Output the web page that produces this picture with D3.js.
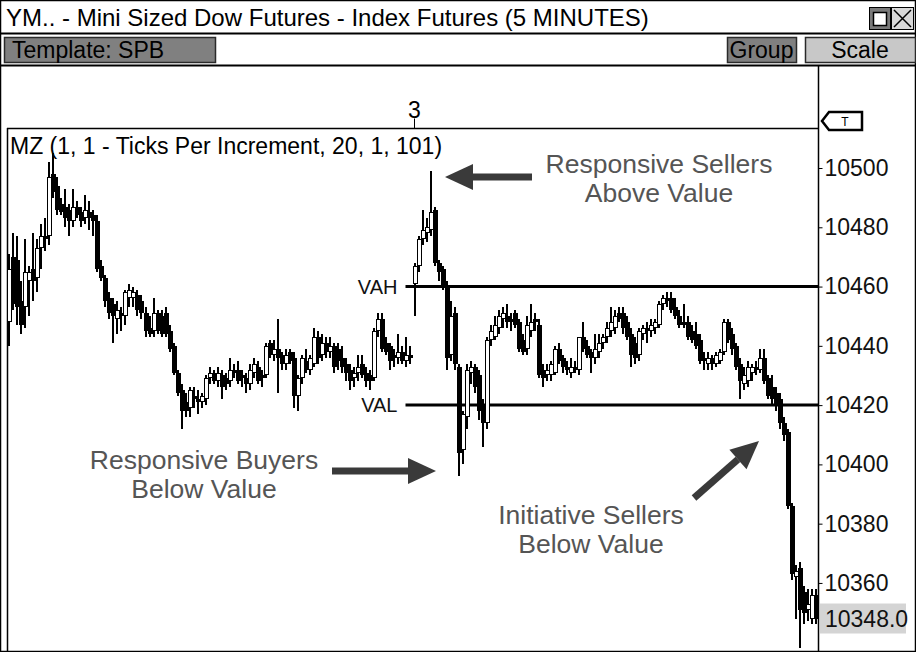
<!DOCTYPE html>
<html>
<head>
<meta charset="utf-8">
<script src="https://d3js.org/d3.v7.min.js"></script>
<style>
  body { margin: 0; background: #fff; }
  svg { display: block; font-family: "Liberation Sans", Arial, sans-serif; }
</style>
</head>
<body>
<div id="chart"></div>
<script>
// 5 minute bars, [open, high, low, close]
var session1 = [
  [10448,10471,10440,10466],[10470,10478,10452,10454],[10469,10477,10447,10453],[10455,10462,10444,10447],
  [10453,10476,10446,10465],[10462,10467,10450,10465],[10466,10478,10455,10462],[10463,10476,10458,10473],
  [10473,10481,10466,10477],[10476,10483,10472,10477],[10477,10502,10474,10497],[10498,10505,10490,10492],
  [10494,10497,10484,10486],[10488,10490,10484,10485],[10487,10493,10480,10483],[10486,10488,10477,10482],
  [10482,10493,10480,10487],[10487,10489,10483,10484],[10485,10487,10480,10482],[10483,10491,10481,10486],
  [10485,10489,10479,10483],[10484,10486,10477,10482],[10482,10484,10465,10466],[10467,10469,10462,10463],
  [10463,10464,10453,10455],[10456,10458,10449,10451],[10454,10456,10441,10450],[10449,10455,10444,10452],
  [10451,10453,10445,10450],[10450,10459,10447,10458],[10456,10461,10453,10459],[10456,10460,10453,10458],
  [10457,10459,10450,10452],[10455,10457,10449,10451],[10451,10453,10443,10445],[10446,10450,10443,10444],
  [10445,10456,10443,10451],[10451,10452,10444,10445],[10450,10452,10443,10444],[10451,10453,10443,10444],
  [10445,10447,10438,10439],[10440,10441,10430,10431],[10431,10432,10423,10424],[10425,10427,10412,10418],
  [10421,10424,10416,10418],[10419,10426,10416,10425],[10423,10426,10419,10422],[10422,10425,10417,10421],
  [10421,10424,10419,10423],[10422,10430,10420,10429],[10429,10433,10427,10431],[10431,10432,10427,10428],
  [10428,10433,10426,10431],[10430,10432,10422,10426],[10429,10431,10425,10427],[10428,10436,10426,10432],
  [10431,10434,10429,10432],[10432,10435,10427,10428],[10430,10432,10426,10429],[10429,10431,10424,10427],
  [10427,10434,10425,10432],[10431,10436,10429,10434],[10433,10435,10427,10428],[10429,10432,10426,10430],
  [10430,10441,10429,10440],[10441,10442,10436,10437],[10437,10442,10435,10439],[10439,10449,10424,10436],
  [10437,10438,10432,10434],[10434,10439,10432,10437],[10438,10439,10434,10435],[10436,10438,10419,10423],
  [10423,10430,10418,10429],[10429,10437,10427,10436],[10435,10439,10431,10432],[10432,10437,10430,10436],
  [10434,10446,10433,10443],[10443,10445,10434,10436],[10437,10444,10435,10441],[10441,10443,10436,10438],
  [10438,10443,10436,10440],[10440,10441,10431,10433],[10439,10441,10432,10435],[10436,10440,10431,10433],
  [10434,10436,10428,10431],[10432,10434,10425,10428],[10429,10433,10426,10431],[10431,10437,10428,10433],
  [10434,10437,10429,10430],[10431,10433,10426,10428],[10430,10432,10425,10428],[10429,10446,10428,10445],
  [10445,10451,10443,10449],[10449,10451,10438,10439],[10441,10443,10437,10438],[10440,10441,10432,10435],
  [10436,10439,10433,10437],[10436,10444,10434,10438],[10438,10440,10434,10435],[10435,10443,10433,10437],
  [10437,10440,10434,10436]
];
var session2 = [
  [10461,10468,10450,10467],[10467,10477,10465,10476],[10476,10486,10474,10479],[10478,10483,10475,10480],
  [10479,10499,10477,10485],[10486,10487,10467,10468],[10468,10469,10462,10465],[10466,10467,10459,10460],
  [10460,10462,10432,10436],[10437,10455,10435,10450],[10451,10453,10432,10434],[10433,10434,10396,10404],
  [10405,10418,10400,10417],[10416,10434,10412,10432],[10431,10435,10427,10433],[10433,10434,10424,10426],
  [10430,10432,10415,10418],[10420,10422,10406,10414],[10414,10443,10412,10442],[10442,10447,10440,10445],
  [10443,10450,10442,10447],[10446,10452,10444,10450],[10449,10453,10446,10451],[10450,10454,10446,10448],
  [10448,10451,10445,10449],[10451,10452,10446,10447],[10448,10449,10438,10439],[10442,10444,10437,10438],
  [10439,10450,10437,10447],[10445,10454,10443,10448],[10448,10451,10445,10449],[10447,10449,10429,10430],
  [10432,10434,10426,10429],[10430,10434,10428,10432],[10430,10435,10428,10434],[10431,10440,10430,10439],
  [10439,10441,10434,10435],[10436,10437,10431,10433],[10433,10435,10430,10432],[10431,10436,10429,10433],
  [10433,10435,10431,10432],[10432,10443,10430,10443],[10443,10448,10438,10439],[10440,10442,10436,10437],
  [10438,10439,10431,10436],[10436,10444,10434,10439],[10438,10444,10436,10441],[10441,10444,10439,10443],
  [10443,10448,10441,10446],[10445,10453,10443,10448],[10446,10452,10444,10450],[10451,10453,10448,10449],
  [10451,10453,10444,10446],[10448,10450,10442,10443],[10444,10446,10433,10437],[10441,10443,10434,10436],
  [10437,10446,10435,10445],[10444,10447,10442,10446],[10446,10448,10441,10445],[10445,10449,10443,10447],
  [10446,10449,10444,10448],[10447,10455,10446,10454],[10454,10457,10452,10456],[10455,10458,10453,10456],
  [10456,10458,10451,10452],[10453,10456,10449,10450],[10450,10452,10446,10447],[10448,10454,10446,10447],
  [10448,10450,10442,10443],[10445,10447,10441,10442],[10444,10448,10439,10440],[10442,10444,10434,10435],
  [10436,10438,10432,10435],[10434,10438,10432,10436],[10436,10437,10432,10434],[10434,10438,10433,10437],
  [10435,10439,10434,10438],[10438,10449,10437,10448],[10448,10449,10441,10442],[10444,10446,10437,10439],
  [10440,10441,10432,10433],[10434,10436,10422,10428],[10427,10433,10425,10430],[10428,10435,10426,10433],
  [10431,10434,10428,10433],[10433,10435,10430,10432],[10432,10439,10431,10436],[10436,10439,10427,10428],
  [10429,10430,10422,10423],[10426,10430,10420,10422],[10424,10426,10418,10420],[10422,10424,10412,10414],
  [10414,10416,10408,10410],[10411,10412,10385,10386],[10386,10387,10361,10363],[10362,10366,10348,10364],
  [10365,10367,10338,10351],[10357,10359,10346,10350],[10351,10358,10347,10353],[10348,10358,10346,10356],
  [10356,10358,10346,10348]
];
var priceTicks = [10500, 10480, 10460, 10440, 10420, 10400, 10380, 10360];
var dayLabels = ["3"];
var lastPrice = 10348.0;
var valueArea = [{name: "VAH", price: 10460}, {name: "VAL", price: 10420}];
var noteSellers = ["Responsive Sellers", "Above Value"];
var noteBuyers = ["Responsive Buyers", "Below Value"];
var noteInitiative = ["Initiative Sellers", "Below Value"];

var W = 916, H = 652;
var PLOT_LEFT = 7, PLOT_RIGHT = 818, PLOT_TOP = 128, PLOT_BOTTOM = 652;
var FONT = 23;

var bars = session1.concat(session2).map(function(b, i) {
  return {i: i, o: b[0], h: b[1], l: b[2], c: b[3]};
});

var svg = d3.select("#chart").append("svg")
  .attr("width", W)
  .attr("height", H);

// window frame + title bar
svg.append("rect").attr("x", 0.5).attr("y", 0.5).attr("width", W - 1).attr("height", H - 1)
  .attr("fill", "#fff").attr("stroke", "#000").attr("stroke-width", 1.5);

svg.append("text").attr("x", 6).attr("y", 26)
  .attr("font-size", 24).text("YM.. - Mini Sized Dow Futures - Index Futures (5 MINUTES)");

// maximise / close boxes
svg.append("rect").attr("x", 869.5).attr("y", 7.5).attr("width", 21).attr("height", 22)
  .attr("fill", "#7a7a7a").attr("stroke", "#000");
svg.append("rect").attr("x", 873.5).attr("y", 12.5).attr("width", 13).attr("height", 13)
  .attr("fill", "#fff").attr("stroke", "#000").attr("stroke-width", 1.5);
svg.append("rect").attr("x", 891.5).attr("y", 7.5).attr("width", 22).attr("height", 22)
  .attr("fill", "#d8d8d8").attr("stroke", "#000");
svg.append("path").attr("d", "M894,10L911,27M911,10L894,27").attr("stroke", "#000").attr("stroke-width", 1.5);

svg.append("line").attr("x1", 0).attr("x2", W).attr("y1", 33.5).attr("y2", 33.5)
  .attr("stroke", "#000").attr("stroke-width", 2);

// toolbar
var buttons = [
  {label: "Template: SPB", x: 4, w: 211, fill: "#808080", anchor: "start"},
  {label: "Group", x: 727, w: 69, fill: "#808080", anchor: "middle"},
  {label: "Scale", x: 805, w: 110, fill: "#c8c8c8", anchor: "middle"}
];
var btn = svg.selectAll(".btn").data(buttons).enter().append("g").attr("class", "btn");
btn.append("rect")
  .attr("x", function(d) { return d.x + 0.5; })
  .attr("y", 37.5).attr("width", function(d) { return d.w; }).attr("height", 25)
  .attr("fill", function(d) { return d.fill; })
  .attr("stroke", "#2a2a2a").attr("stroke-width", 1.5);
btn.append("text")
  .attr("x", function(d) { return d.anchor === "start" ? d.x + 8 : d.x + d.w / 2; })
  .attr("y", 58).attr("font-size", FONT)
  .attr("text-anchor", function(d) { return d.anchor; })
  .text(function(d) { return d.label; });

svg.append("line").attr("x1", 0).attr("x2", W).attr("y1", 65.5).attr("y2", 65.5)
  .attr("stroke", "#000").attr("stroke-width", 2);

// scales
var x = d3.scaleBand()
  .domain(bars.map(function(d) { return d.i; }))
  .range([PLOT_LEFT, PLOT_RIGHT]);
var y = d3.scaleLinear()
  .domain([10336.7, 10513.5])
  .range([PLOT_BOTTOM, PLOT_TOP]);
function cx(d) { return Math.round(x(d.i) + x.bandwidth() / 2); }

// frame lines of the plot
svg.append("line").attr("x1", PLOT_LEFT + 0.5).attr("x2", PLOT_LEFT + 0.5)
  .attr("y1", PLOT_TOP).attr("y2", PLOT_BOTTOM).attr("stroke", "#000").attr("stroke-width", 1.5);
svg.append("line").attr("x1", PLOT_RIGHT + 0.5).attr("x2", PLOT_RIGHT + 0.5)
  .attr("y1", 66).attr("y2", PLOT_BOTTOM).attr("stroke", "#000").attr("stroke-width", 1.5);

// time axis on top (day break)
var timeAxis = d3.axisTop(x)
  .tickValues([session1.length])
  .tickSize(10)
  .tickFormat(function(d, i) { return dayLabels[i]; });
var tg = svg.append("g").attr("transform", "translate(0," + (PLOT_TOP + 0.5) + ")").call(timeAxis);
tg.select(".domain").attr("d", "M" + PLOT_LEFT + ",0H" + PLOT_RIGHT).attr("stroke-width", 1.5);
tg.selectAll("text").attr("font-size", FONT).attr("font-family", "Liberation Sans, Arial").attr("dy", "0.1em");

// price axis
var priceAxis = d3.axisRight(y)
  .tickValues(priceTicks)
  .tickSize(4)
  .tickPadding(2)
  .tickFormat(d3.format("d"));
var pg = svg.append("g").attr("transform", "translate(" + (PLOT_RIGHT + 0.5) + ",0)").call(priceAxis);
pg.select(".domain").remove();
pg.selectAll("text").attr("font-size", FONT).attr("font-family", "Liberation Sans, Arial").attr("fill", "#111");

// last price box
svg.append("rect").attr("x", 820).attr("y", y(lastPrice) - 15).attr("width", 86).attr("height", 30)
  .attr("fill", "#d4d4d4");
svg.append("text").attr("x", 825).attr("y", y(lastPrice) + 8)
  .attr("font-size", FONT).attr("fill", "#111").text(d3.format(".1f")(lastPrice));

// T tag
svg.append("path").attr("d", "M822,121L829,112H862V130H829Z")
  .attr("fill", "#fff").attr("stroke", "#000").attr("stroke-width", 2.5);
svg.append("text").attr("x", 845).attr("y", 126).attr("text-anchor", "middle")
  .attr("font-size", 12).text("T");

// study label
svg.append("text").attr("x", 10).attr("y", 154).attr("font-size", FONT)
  .text("MZ (1, 1 - Ticks Per Increment, 20, 1, 101)");

// value area lines
var vaX0 = x(session1.length) - 7;
svg.selectAll(".va").data(valueArea).enter().append("line")
  .attr("class", "va")
  .attr("x1", vaX0).attr("x2", PLOT_RIGHT)
  .attr("y1", function(d) { return y(d.price); })
  .attr("y2", function(d) { return y(d.price); })
  .attr("stroke", "#000").attr("stroke-width", 3);
svg.selectAll(".valabel").data(valueArea).enter().append("text")
  .attr("x", vaX0 - 8)
  .attr("y", function(d) { return y(d.price) + 7; })
  .attr("text-anchor", "end").attr("font-size", 20).attr("fill", "#111")
  .text(function(d) { return d.name; });

// candles: wick, then a black body, white inside for up bars
var cg = svg.append("g").attr("shape-rendering", "crispEdges");
cg.selectAll(".wick").data(bars).enter().append("rect")
  .attr("class", "wick")
  .attr("x", function(d) { return cx(d) - 1; })
  .attr("width", 2)
  .attr("y", function(d) { return y(d.h); })
  .attr("height", function(d) { return y(d.l) - y(d.h); })
  .attr("fill", "#000");
cg.selectAll(".body").data(bars).enter().append("rect")
  .attr("class", "body")
  .attr("x", function(d) { return cx(d) - 2; })
  .attr("y", function(d) { return y(Math.max(d.o, d.c)); })
  .attr("width", 5)
  .attr("height", function(d) { return Math.max(2, Math.abs(y(d.o) - y(d.c))); })
  .attr("fill", "#000");
cg.selectAll(".hollow").data(bars.filter(function(d) { return d.c > d.o && y(d.o) - y(d.c) > 3; }))
  .enter().append("rect")
  .attr("class", "hollow")
  .attr("x", function(d) { return cx(d) - 1; })
  .attr("y", function(d) { return y(d.c) + 1; })
  .attr("width", 3)
  .attr("height", function(d) { return y(d.o) - y(d.c) - 2; })
  .attr("fill", "#fff");

// annotations
function arrow(x0, y0, x1, y1) {
  var a = Math.atan2(y1 - y0, x1 - x0), hl = 28, hw = 13;
  var bx = x1 - hl * Math.cos(a), by = y1 - hl * Math.sin(a);
  var px = -Math.sin(a), py = Math.cos(a);
  svg.append("line").attr("x1", x0).attr("y1", y0).attr("x2", bx).attr("y2", by)
    .attr("stroke", "#3a3a3a").attr("stroke-width", 7);
  svg.append("path")
    .attr("d", "M" + x1 + "," + y1 + "L" + (bx + px * hw) + "," + (by + py * hw) + "L" + (bx - px * hw) + "," + (by - py * hw) + "Z")
    .attr("fill", "#3a3a3a");
}
function note(lines, cxp, y0) {
  svg.append("text").attr("text-anchor", "middle").attr("font-size", 26.5).attr("fill", "#555")
    .selectAll("tspan").data(lines).enter().append("tspan")
    .attr("x", cxp).attr("y", function(d, i) { return y0 + i * 29; })
    .text(function(d) { return d; });
}
note(noteSellers, 659, 173);
arrow(532, 177, 445, 177);
note(noteBuyers, 204, 469);
arrow(332, 471, 436, 471);
note(noteInitiative, 591, 524);
arrow(694, 498, 759, 441);
</script>
</body>
</html>
